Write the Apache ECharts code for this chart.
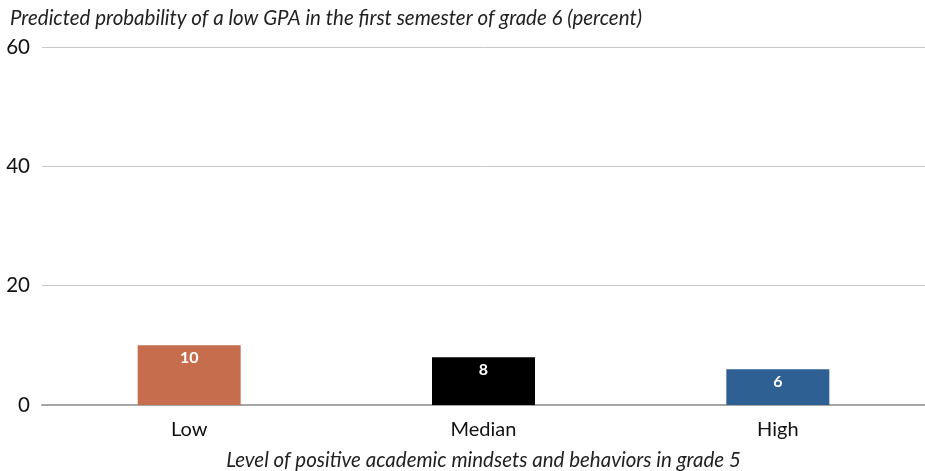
<!DOCTYPE html>
<html>
<head>
<meta charset="utf-8">
<script src="https://cdn.jsdelivr.net/npm/echarts@6/dist/echarts.min.js"></script>
<style>
  html, body { margin: 0; padding: 0; background: #fff; }
  #chart { width: 925px; height: 471px; }
</style>
</head>
<body>
<div id="chart"></div>
<script>
  // 类别与数值
  var categories = ['Low', 'Median', 'High'];
  var values = [10, 8, 6];
  var barColors = ['#C66D4D', '#000000', '#2E6094'];
  var yTicks = [0, 20, 40, 60];

  var chart = echarts.init(document.getElementById('chart'));
  var font = 'Lato, "Open Sans", sans-serif';

  chart.setOption({
    backgroundColor: '#fff',
    animation: false,
    title: {
      text: 'Predicted probability of a low GPA in the first semester of grade 6 (percent)',
      left: 5,
      top: 3,
      textStyle: {
        color: '#222',
        fontStyle: 'italic',
        fontWeight: 'normal',
        fontSize: 20.5,
        fontFamily: font
      }
    },
    grid: {
      left: 42,
      right: 0,
      top: 47,
      bottom: 66,
      outerBoundsMode: 'none'
    },
    xAxis: {
      type: 'category',
      data: categories,
      name: 'Level of positive academic mindsets and behaviors in grade 5',
      nameLocation: 'middle',
      nameGap: 45,
      nameTextStyle: {
        color: '#222',
        fontStyle: 'italic',
        fontSize: 20.5,
        fontFamily: font
      },
      axisTick: { show: false },
      axisLine: {
        lineStyle: { color: '#a6a6a6', width: 2 }
      },
      axisLabel: {
        color: '#111',
        fontSize: 20,
        fontFamily: font,
        margin: 15
      }
    },
    yAxis: {
      type: 'value',
      min: yTicks[0],
      max: yTicks[yTicks.length - 1],
      interval: 20,
      axisLine: { show: false },
      axisTick: { show: false },
      axisLabel: {
        color: '#111',
        fontSize: 20.5,
        fontFamily: font,
        margin: 12
      },
      splitLine: {
        lineStyle: { color: '#c8c8c8', width: 1 }
      }
    },
    series: [{
      type: 'bar',
      barWidth: 103,
      data: values.map(function (v, i) {
        return { value: v, itemStyle: { color: barColors[i] } };
      }),
      label: {
        show: true,
        position: 'insideTop',
        distance: 5,
        color: '#fff',
        fontWeight: 'bold',
        fontSize: 16,
        fontFamily: font
      }
    }]
  });
</script>
</body>
</html>
